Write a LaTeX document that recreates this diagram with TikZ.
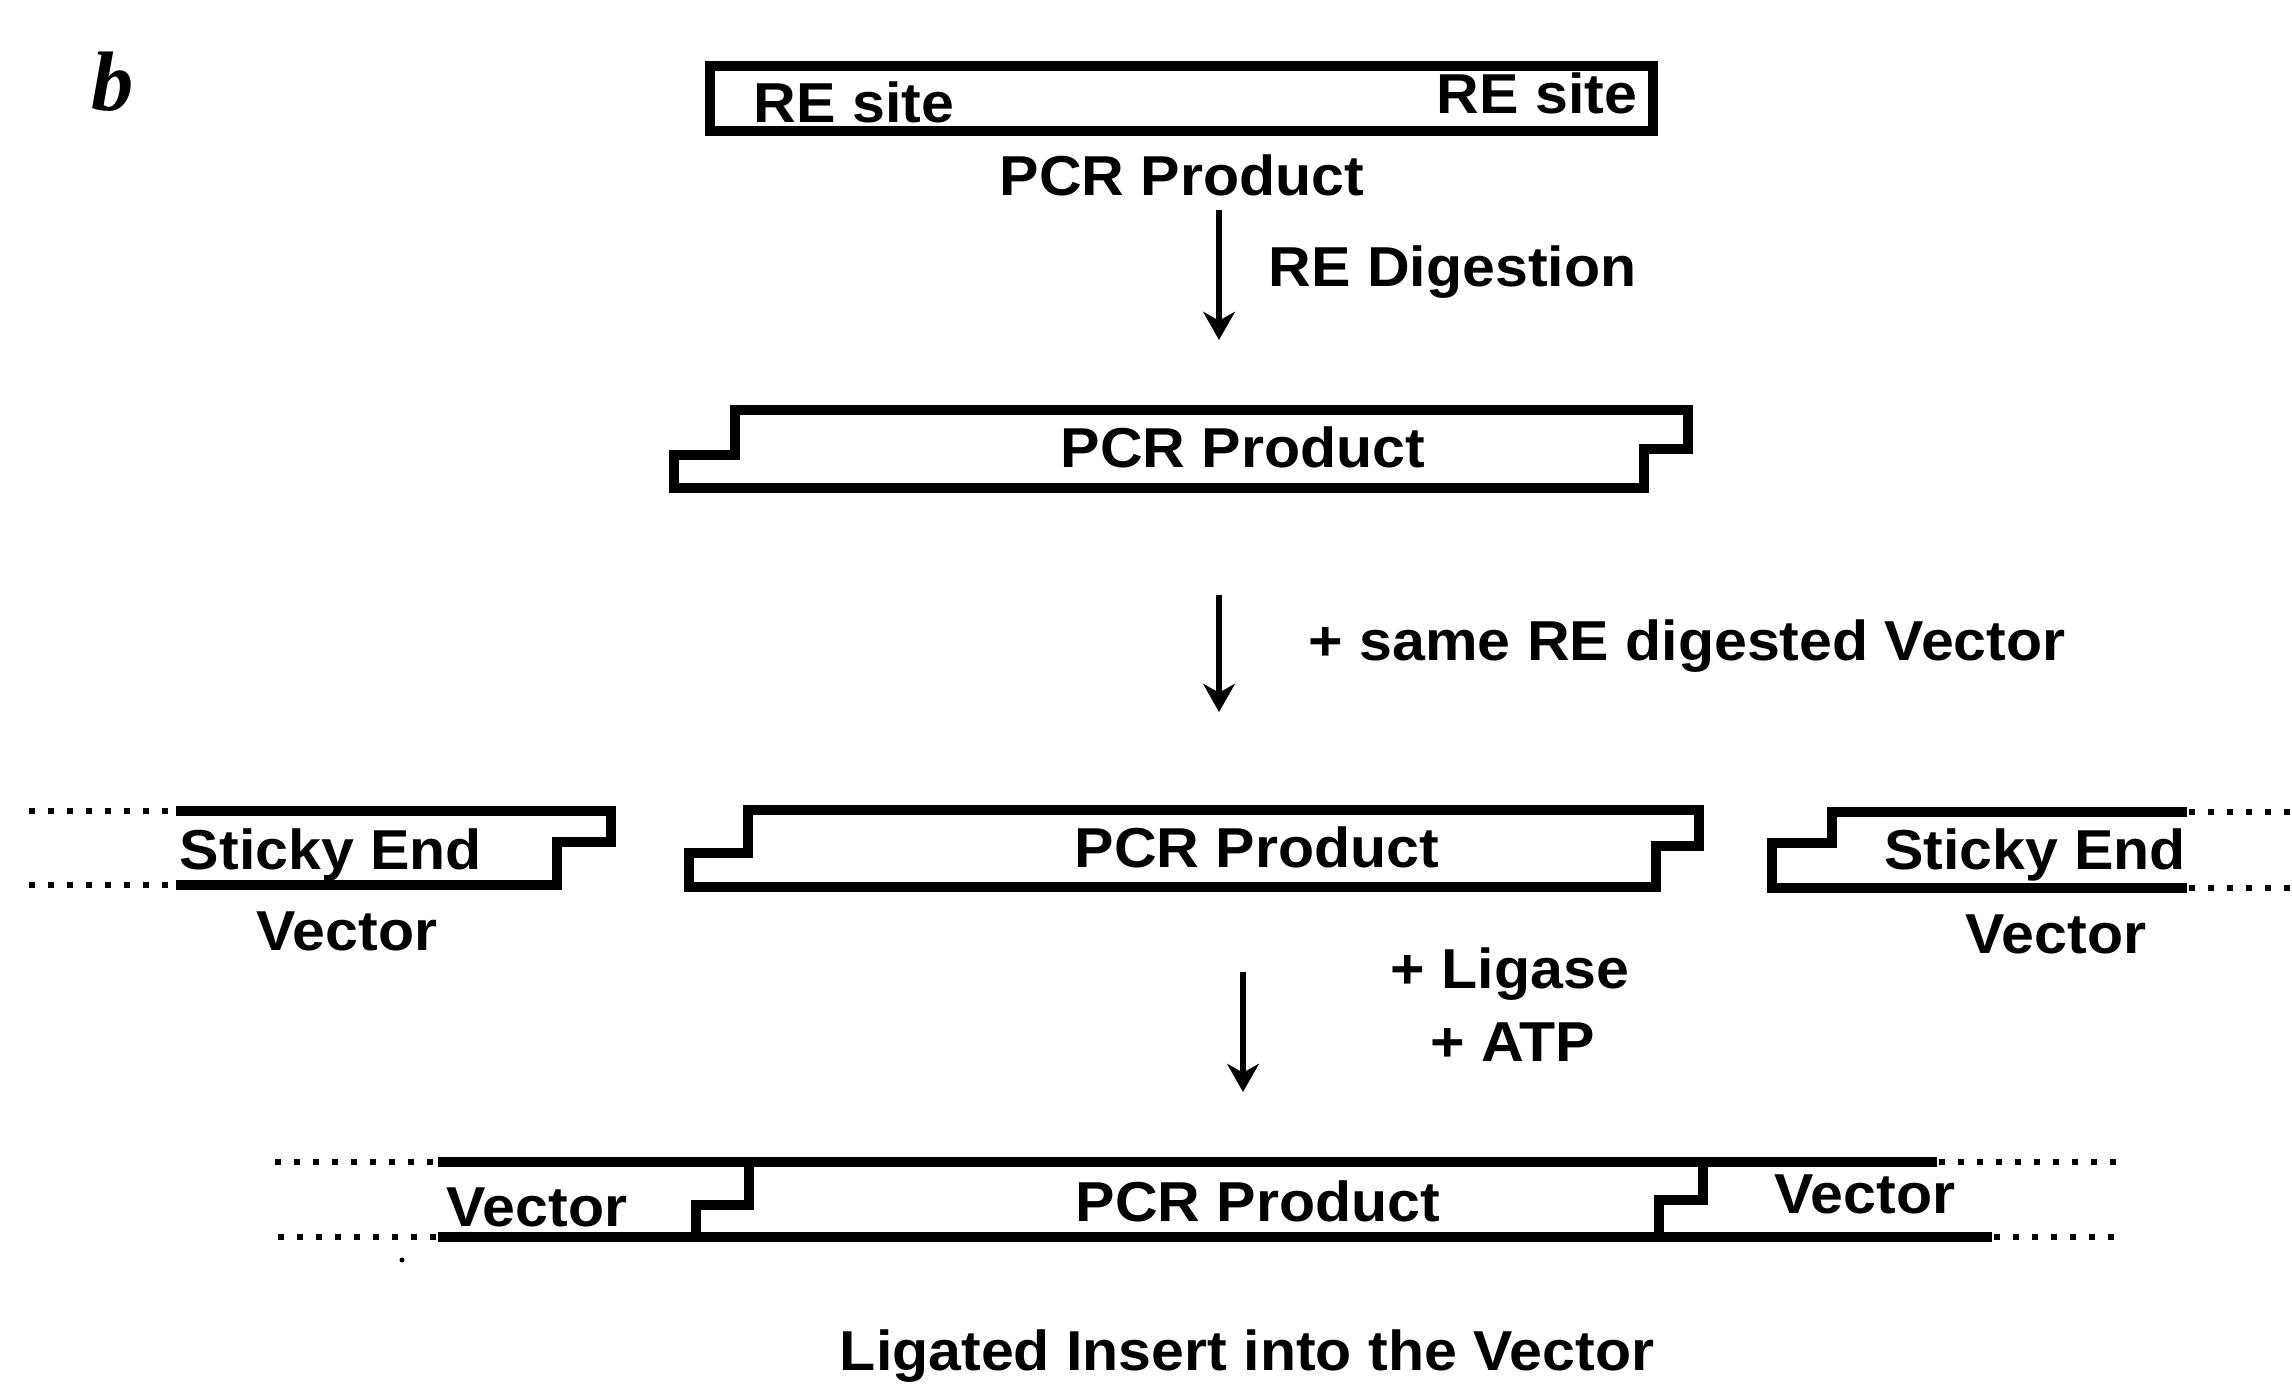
\documentclass[tikz,border=0pt]{standalone}
\usepackage{fontspec}
\newfontfamily\lab{Liberation Sans}[FakeStretch=1.05]
\newfontfamily\serifb{Liberation Serif}
\usetikzlibrary{arrows.meta}
\begin{document}
\begin{tikzpicture}[x=0.01cm,y=-0.01cm,
  strand/.style={line width=2.6pt, line join=miter},
  dots/.style={line width=1.6pt, dash pattern=on 1.6pt off 3.8pt},
  lbl/.style={font=\lab\bfseries\fontsize{16}{18}\selectfont, inner sep=0pt, anchor=base},
  flow/.style={line width=1.7pt, -{Stealth[width=9pt,length=8pt,inset=2.5pt]}}]
\useasboundingbox (0,0) rectangle (2292,1384);
% panel letter
\node[font=\serifb\bfseries\itshape\fontsize{24}{26}\selectfont, inner sep=0pt, anchor=base] (panel) at (113,110) {b};

% ---- PCR product with RE sites
\draw[strand] (710,66) rectangle (1653,131);
\node[lbl] (re1) at (854,122) {RE site};
\node[lbl] (re2) at (1537,113) {RE site};
\node[lbl] (pcr1) at (1182,195) {PCR Product};

% arrow 1
\coordinate (a1s) at (1219,210);
\coordinate (a1e) at (1219,340);
\draw[flow] (a1s) -- (a1e);
\node[lbl, anchor=base west] (dig) at (1268,286) {RE Digestion};

% ---- digested PCR product
\draw[strand] (735,410) -- (1688,410) -- (1688,449) -- (1644,449) -- (1644,488)
  -- (674,488) -- (674,455) -- (735,455) -- cycle;
\node[lbl] (pcr2) at (1243,467) {PCR Product};

% arrow 2
\coordinate (a2s) at (1219,595);
\coordinate (a2e) at (1219,712);
\draw[flow] (a2s) -- (a2e);
\node[lbl, anchor=base west] (vec) at (1308,660) {+ same RE digested Vector};

% ---- row 3: vector ends and insert
\draw[dots] (29,811) -- (174,811);
\draw[dots] (29,885) -- (174,885);
\draw[strand] (176,811) -- (611,811) -- (611,842) -- (557,842) -- (557,885) -- (176,885);
\node[lbl] (st1) at (331,869) {Sticky End};
\node[lbl] (v1) at (347,950) {Vector};

\draw[strand] (748,810) -- (1699,810) -- (1699,846) -- (1656,846) -- (1656,887)
  -- (689,887) -- (689,853) -- (748,853) -- cycle;
\node[lbl] (pcr3) at (1257,867) {PCR Product};

\draw[strand] (2187,812) -- (1832,812) -- (1832,843) -- (1772,843) -- (1772,888) -- (2187,888);
\draw[dots] (2189,812) -- (2292,812);
\draw[dots] (2189,888) -- (2292,888);
\node[lbl] (st2) at (2035,869) {Sticky End};
\node[lbl] (v2) at (2056,953) {Vector};

% arrow 3
\coordinate (a3s) at (1243,972);
\coordinate (a3e) at (1243,1092);
\draw[flow] (a3s) -- (a3e);
\node[lbl] (lig) at (1510,988) {+ Ligase};
\node[lbl] (atp) at (1513,1061) {+ ATP};

% ---- row 4: ligated product
\draw[dots] (275,1162) -- (436,1162);
\draw[dots] (278,1237) -- (436,1237);
\draw[strand] (438,1162) -- (1937,1162);
\draw[strand] (438,1237) -- (1992,1237);
\draw[strand] (749,1162) -- (749,1205) -- (696,1205) -- (696,1237);
\draw[strand] (1703,1162) -- (1703,1200) -- (1659,1200) -- (1659,1237);
\draw[dots] (1939,1162) -- (2119,1162);
\draw[dots] (1994,1237) -- (2119,1237);
\node[lbl] (v3) at (537,1226) {Vector};
\node[lbl] (pcr4) at (1258,1221) {PCR Product};
\node[lbl] (v4) at (1865,1213) {Vector};
\fill (402,1260) circle (2.5);

\node[lbl] (cap) at (1247,1370) {Ligated Insert into the Vector};
\end{tikzpicture}
\end{document}
